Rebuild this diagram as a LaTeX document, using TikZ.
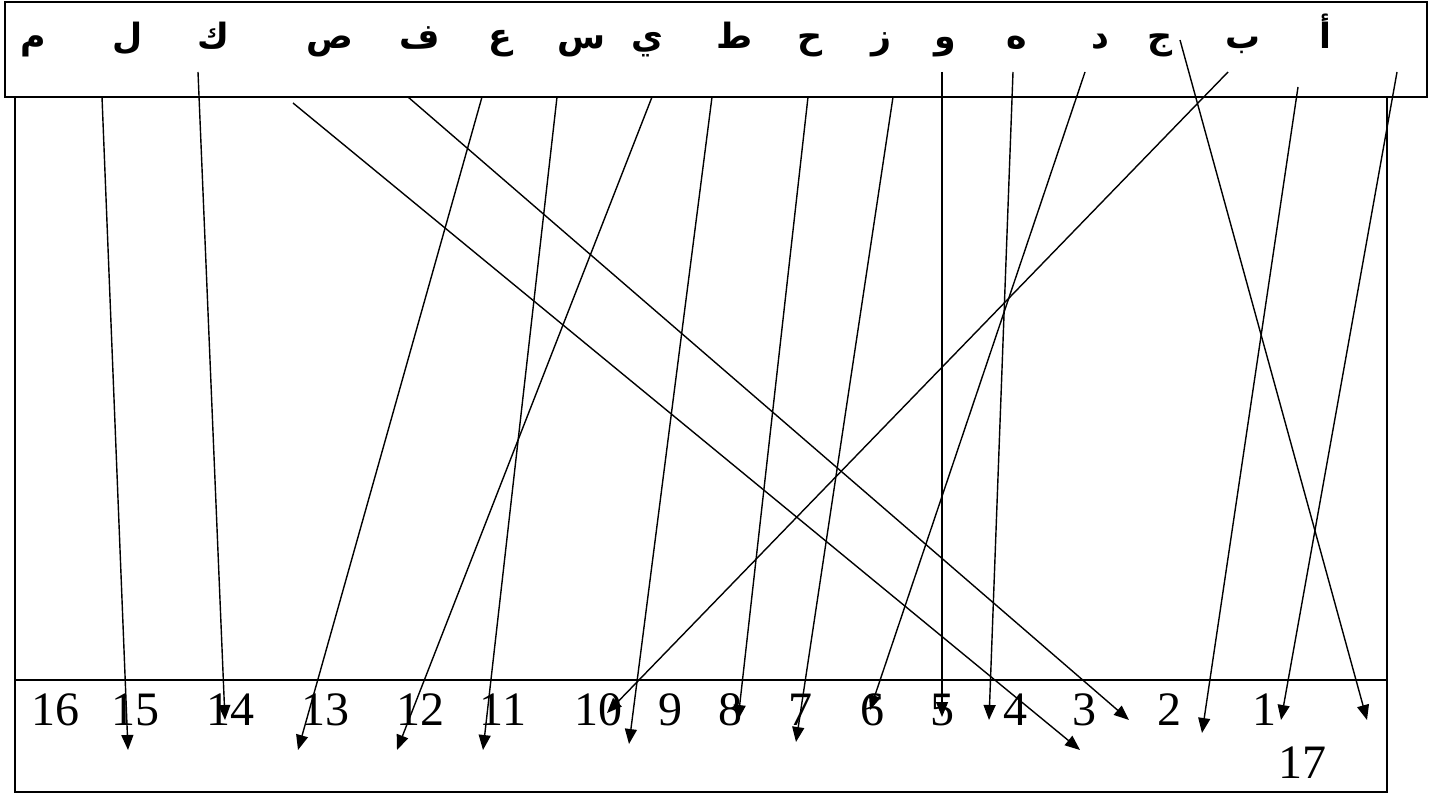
\documentclass[tikz,border=0pt]{standalone}
\usepackage{fontspec}
\setmainfont{Liberation Serif}
\newfontfamily\arabicfont[Script=Arabic,Scale=1.45]{DejaVu Sans Bold}
\TeXXeTstate=1
\usetikzlibrary{arrows.meta}
\begin{document}
\begin{tikzpicture}[x=1pt,y=-1pt,
  frame/.style={draw,line width=1.8pt},
  link/.style={line width=1.4pt,-{Triangle[length=15pt,width=12pt]}},
  letter/.style={font=\fontsize{24}{28}\selectfont\arabicfont,anchor=base,inner sep=0pt},
  num/.style={font=\fontsize{48}{56}\selectfont,anchor=base,inner sep=0pt}]
\useasboundingbox (0,0) rectangle (1434,794);
% frames
\draw[frame] (15,97) rectangle (1387,792);
\draw[frame] (15,680) -- (1387,680);
\draw[frame] (5,2) rectangle (1427,97);
% letters
\foreach \n/\x/\t in {1/1325/أ,2/1243/ب,3/1160/ج,4/1100/د,5/1017/ه,6/945/و,7/882/ز,8/810/ح,9/735/ط,10/647/ي,11/582/س,12/500/ع,13/420/ف,14/330/ص,15/213/ك,16/128/ل,17/33/م}
  \node[letter] (l\n) at (\x,49) {\beginR\t\endR};
% numbers
\foreach \n/\x in {16/55,15/135,14/230,13/325,12/420,11/503,10/598,9/670,8/730,7/800,6/872,5/942,4/1015,3/1084,2/1169,1/1264}
  \node[num] (n\n) at (\x,725) {\n};
\node[num] (n17) at (1302,778) {17};
% connectors
\foreach \n/\sx/\sy/\ex/\ey in {
  a/102/97/128/750, b/198/72/225/720, c/293/103/1080/750, d/408/97/1129/720,
  e/482/97/298/750, f/557/97/483/750, g/652/97/397/750, h/712/97/629/744,
  i/808/97/738/720, j/893/97/796/742, k/942/72/942/717, l/1013/72/989/720,
  m/1085/72/870/710, n/1180/40/1367/720, o/1228/72/607/713, p/1298/87/1202/733,
  q/1397/72/1281/720}
{
  \coordinate (s\n) at (\sx,\sy);
  \coordinate (e\n) at (\ex,\ey);
  \draw[link] (s\n) -- (e\n);
}
\end{tikzpicture}
\end{document}
